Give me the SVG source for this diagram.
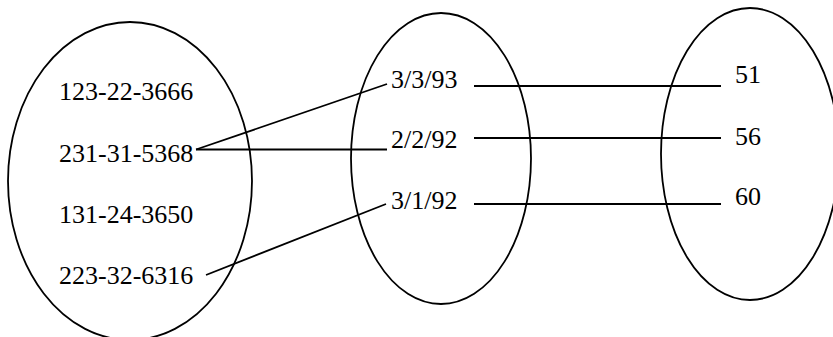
<svg xmlns="http://www.w3.org/2000/svg" width="833" height="337" viewBox="0 0 833 337">
  <style>
    .set { fill: none; stroke: #000; stroke-width: 1.8; }
    .link { stroke: #000; stroke-width: 1.8; fill: none; }
    text { font-family: "Liberation Serif", "Times New Roman", serif; font-size: 26px; fill: #000; }
  </style>
  <rect width="833" height="337" fill="#fff"/>

  <!-- Set of social security numbers -->
  <g id="ssn-set">
    <ellipse class="set" cx="130" cy="181" rx="122" ry="159"/>
    <text x="59" y="100">123-22-3666</text>
    <text x="59" y="162">231-31-5368</text>
    <text x="59" y="223">131-24-3650</text>
    <text x="59" y="284">223-32-6316</text>
  </g>

  <!-- Set of dates -->
  <g id="date-set">
    <ellipse class="set" cx="441" cy="158.5" rx="90" ry="145.5"/>
    <text x="391" y="88">3/3/93</text>
    <text x="391" y="148">2/2/92</text>
    <text x="391" y="209">3/1/92</text>
  </g>

  <!-- Set of values -->
  <g id="value-set">
    <ellipse class="set" cx="750" cy="154" rx="89" ry="146"/>
    <text x="735" y="83">51</text>
    <text x="735" y="145">56</text>
    <text x="735" y="205">60</text>
  </g>

  <!-- Mappings between the sets -->
  <g id="connectors">
    <line class="link" x1="196" y1="149.5" x2="387" y2="84"/>
    <line class="link" x1="196" y1="149.5" x2="387" y2="149.5"/>
    <line class="link" x1="206" y1="275" x2="386" y2="204"/>
    <line class="link" x1="474" y1="86" x2="721" y2="86"/>
    <line class="link" x1="474" y1="138" x2="721" y2="138"/>
    <line class="link" x1="474" y1="204" x2="721" y2="204"/>
  </g>
</svg>
